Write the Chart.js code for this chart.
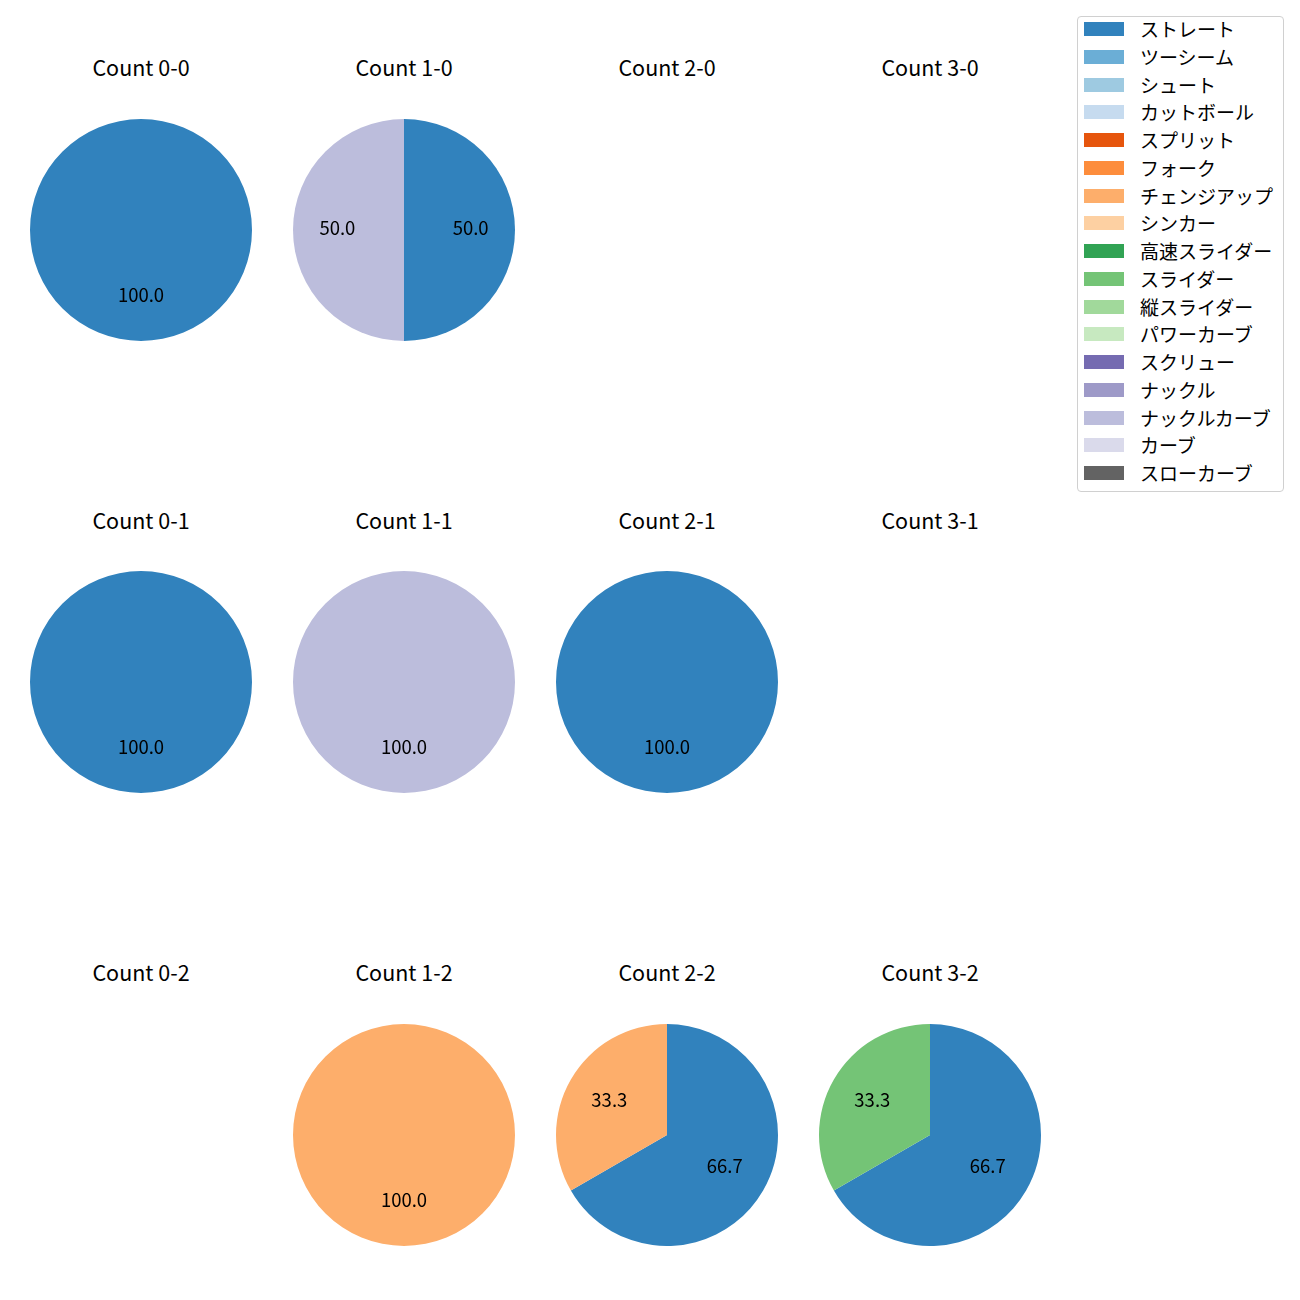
<!DOCTYPE html>
<html>
<head>
<meta charset="utf-8">
<script src="https://cdn.jsdelivr.net/npm/chart.js@4"></script>
<style>
  body { margin: 0; background: #fff; font-family: "Noto Sans CJK JP", "Noto Sans", sans-serif; }
  #stage { position: relative; width: 1300px; height: 1300px; }
  .title { position: absolute; width: 240px; text-align: center; font-size: 21.5px; color: #000; line-height: 24px; }
  .pie { position: absolute; }
  #legend { position: absolute; left: 1077px; top: 16px; width: 207px; height: 476px;
            border: 1px solid #d0d0d0; border-radius: 4px; box-sizing: border-box; }
  .lg-row { position: absolute; left: 0; height: 22px; }
  .lg-patch { position: absolute; left: 6px; top: 4px; width: 40px; height: 14px; }
  .lg-text { position: absolute; left: 62px; top: 0; font-size: 19px; line-height: 22px; white-space: nowrap; color: #000; }
</style>
</head>
<body>
<div id="stage"><div id="legend"></div></div>
<script>
// pitch types and tab20c colours
const pitchTypes = ["ストレート", "ツーシーム", "シュート", "カットボール", "スプリット", "フォーク",
  "チェンジアップ", "シンカー", "高速スライダー", "スライダー", "縦スライダー", "パワーカーブ",
  "スクリュー", "ナックル", "ナックルカーブ", "カーブ", "スローカーブ"];
const pitchColors = ["#3182bd", "#6baed6", "#9ecae1", "#c6dbef", "#e6550d", "#fd8d3c",
  "#fdae6b", "#fdd0a2", "#31a354", "#74c476", "#a1d99b", "#c7e9c0",
  "#756bb1", "#9e9ac8", "#bcbddc", "#dadaeb", "#636363"];

// one entry per count: pitch names and pitch counts
const countTitles = [
  ["Count 0-0", "Count 1-0", "Count 2-0", "Count 3-0"],
  ["Count 0-1", "Count 1-1", "Count 2-1", "Count 3-1"],
  ["Count 0-2", "Count 1-2", "Count 2-2", "Count 3-2"],
];
const pitches = {
  "Count 0-0": ["ストレート"],
  "Count 1-0": ["ストレート", "ナックルカーブ"],
  "Count 0-1": ["ストレート"],
  "Count 1-1": ["ナックルカーブ"],
  "Count 2-1": ["ストレート"],
  "Count 1-2": ["チェンジアップ"],
  "Count 2-2": ["ストレート", "チェンジアップ"],
  "Count 3-2": ["ストレート", "スライダー"],
};
const counts = {
  "Count 0-0": [1],
  "Count 1-0": [1, 1],
  "Count 0-1": [1],
  "Count 1-1": [1],
  "Count 2-1": [1],
  "Count 1-2": [1],
  "Count 2-2": [2, 1],
  "Count 3-2": [2, 1],
};

const colX = [141, 404, 667, 930];
const rowY = [230, 682, 1135];
const titleY = [68, 521, 973];
const R = 111;

// draws percentage at 0.6 radius like matplotlib autopct
const pctLabels = {
  id: "pctLabels",
  afterDatasetsDraw(chart) {
    const ctx = chart.ctx;
    const meta = chart.getDatasetMeta(0);
    const data = chart.data.datasets[0].data;
    const total = data.reduce((a, b) => a + b, 0);
    ctx.save();
    ctx.font = '18.5px "Noto Sans CJK JP", "Noto Sans", sans-serif';
    ctx.fillStyle = "#000";
    ctx.textAlign = "center";
    ctx.textBaseline = "middle";
    meta.data.forEach((arc, i) => {
      if (!data[i]) return;
      const p = arc.getProps(["x", "y", "startAngle", "endAngle", "outerRadius"], true);
      const a = (p.startAngle + p.endAngle) / 2;
      const r = p.outerRadius * 0.6;
      ctx.fillText((data[i] / total * 100).toFixed(1), p.x + Math.cos(a) * r, p.y + Math.sin(a) * r - 2);
    });
    ctx.restore();
  },
};

const stage = document.getElementById("stage");

countTitles.forEach((row, ri) => {
  row.forEach((title, ci) => {
    const t = document.createElement("div");
    t.className = "title";
    t.textContent = title;
    t.style.left = (colX[ci] - 120) + "px";
    t.style.top = (titleY[ri] - 13) + "px";
    stage.appendChild(t);

    if (!counts[title]) return;
    const cv = document.createElement("canvas");
    cv.className = "pie";
    cv.width = 2 * R;
    cv.height = 2 * R;
    cv.style.left = (colX[ci] - R) + "px";
    cv.style.top = (rowY[ri] - R) + "px";
    stage.appendChild(cv);

    new Chart(cv, {
      type: "pie",
      data: {
        labels: pitches[title],
        datasets: [{
          data: counts[title],
          backgroundColor: pitches[title].map((p) => pitchColors[pitchTypes.indexOf(p)]),
          borderWidth: 0,
        }],
      },
      options: {
        responsive: false,
        animation: false,
        layout: { padding: 0 },
        plugins: { legend: { display: false }, tooltip: { enabled: false } },
      },
      plugins: [pctLabels],
    });
  });
});

// legend
const legend = document.getElementById("legend");
pitchTypes.forEach((p, i) => {
  const row = document.createElement("div");
  row.className = "lg-row";
  row.style.top = (1 + i * 27.75) + "px";
  row.innerHTML = `<div class="lg-patch" style="background:${pitchColors[i]}"></div><div class="lg-text">${p}</div>`;
  legend.appendChild(row);
});
</script>
</body>
</html>
